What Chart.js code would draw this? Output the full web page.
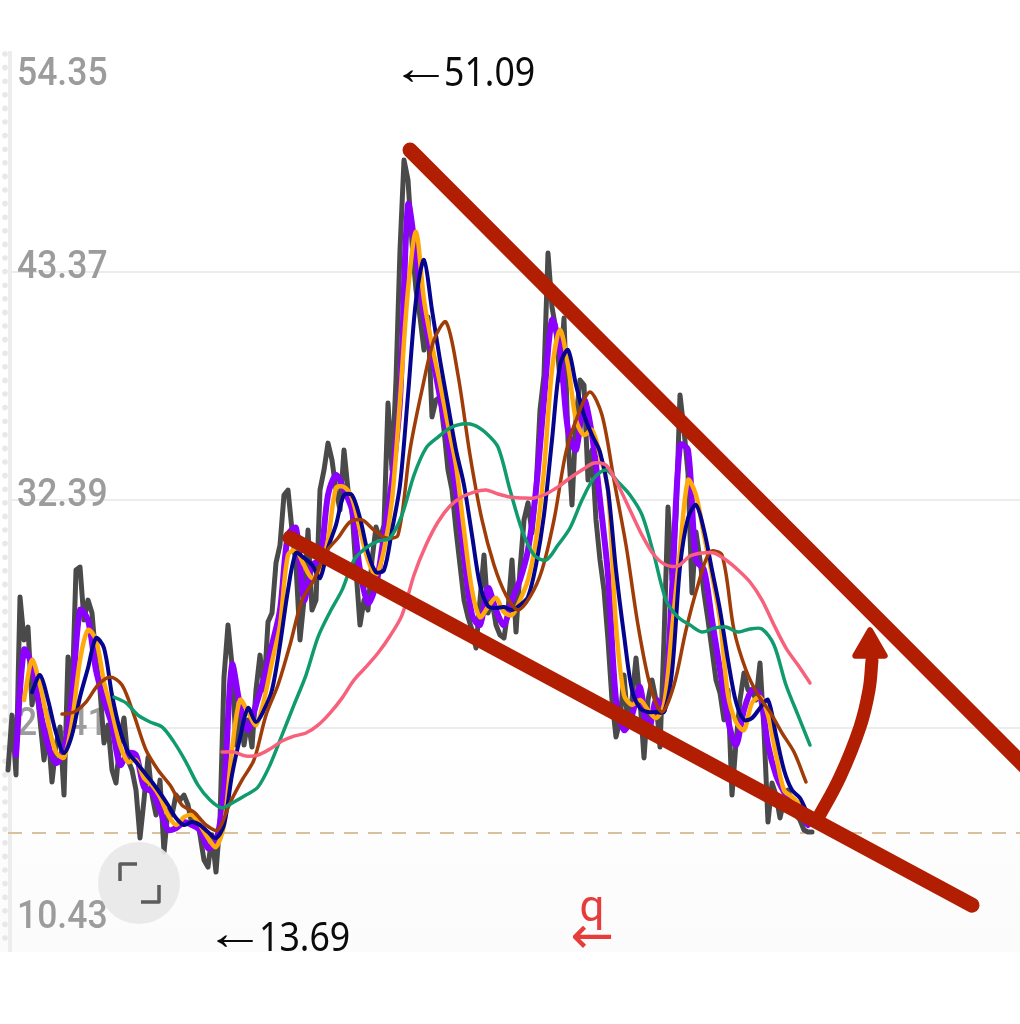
<!DOCTYPE html>
<html>
<head>
<meta charset="utf-8">
<title>Chart</title>
<script src="https://cdn.jsdelivr.net/npm/chart.js@4/dist/chart.umd.min.js"></script>
<style>
html, body { margin: 0; padding: 0; background: #fff; }
canvas { display: block; }
</style>
</head>
<body>
<canvas id="stockchart" width="1020" height="1024"></canvas>
<script>
/*----------------------------------------*/
/*  1.  data (session index, price)
/*----------------------------------------*/
var yTicks = [54.35, 43.37, 32.39, 21.41, 10.43];
var lastSession = 253;
var supportLevel = 16.35;
var highLabel = "51.09";
var lowLabel = "13.69";

var priceValues = [
	19.39,22.03,19.15,27.72,25.65,26.27,22.52,23.72,21.80,19.87,
	21.31,18.81,20.59,21.46,18.18,24.83,22.76,29.02,29.16,26.61,
	27.57,26.95,24.68,23.24,20.69,21.55,19.39,18.76,20.83,21.89,
	19.87,19.39,18.42,16.11,17.94,19.99,18.18,17.22,18.90,15.44,
	17.46,17.22,18.18,17.94,18.18,17.70,16.74,17.22,16.26,15.05,
	14.71,16.26,14.47,16.98,23.87,26.37,24.44,20.59,22.52,20.59,
	21.80,20.49,23.24,24.92,23.24,26.51,26.95,29.36,30.22,32.63,
	32.87,30.94,29.26,25.65,27.57,30.94,27.09,27.57,32.87,33.83,
	35.13,34.31,32.87,31.91,34.80,32.87,31.91,29.02,26.37,27.57,
	27.09,29.50,31.09,30.46,31.19,37.06,33.83,38.17,44.43,48.76,
	47.80,44.77,42.50,41.20,39.61,41.20,36.39,37.21,37.35,35.76,
	33.83,32.87,30.94,29.26,27.57,26.75,26.13,25.26,27.57,29.74,
	26.95,27.57,26.37,25.89,25.74,27.09,29.50,26.03,29.02,31.43,
	32.25,30.80,32.87,36.72,38.41,44.28,41.68,40.58,38.17,41.15,
	35.28,32.15,36.24,38.17,37.93,33.35,34.80,31.43,29.50,28.05,
	25.65,22.76,20.98,21.80,23.96,21.46,22.76,24.78,22.76,19.97,
	22.76,23.72,22.76,20.49,25.65,32.05,28.54,31.57,37.45,35.76,
	33.69,27.91,30.85,29.50,27.91,26.61,25.17,23.72,23.10,21.80,
	23.24,18.18,20.69,22.76,24.06,23.24,23.24,22.76,24.54,21.31,
	16.88,18.76,18.18,17.08,17.94,18.42,17.80,17.22,16.98,16.50,
	16.40,16.40
];

var purpleValues = [
	20.11,25.17,24.44,22.28,20.59,19.72,20.35,22.90,27.09,26.61,
	24.20,22.76,21.55,19.63,20.20,20.11,18.57,18.33,17.46,16.50,
	16.59,16.88,16.74,16.50,15.63,15.92,18.42,24.44,22.52,21.31,
	22.52,23.82,25.41,27.09,30.70,31.04,27.57,29.26,29.50,32.63,
	33.59,32.87,31.91,29.02,27.43,28.30,30.70,33.35,37.21,46.60,
	44.19,41.30,39.37,37.35,35.28,32.87,29.74,26.85,26.37,28.15,
	27.09,26.37,27.57,28.54,29.98,32.87,37.21,41.06,39.61,35.76,
	34.80,37.21,35.52,32.39,28.78,22.76,21.31,22.03,23.38,21.07,
	22.76,22.28,28.05,35.04,34.80,29.50,29.02,26.61,24.20,21.80,
	20.59,22.28,23.24,23.00,20.59,19.15,18.33,17.70,17.22,16.74
];

var orangeValues = [
	22.76,24.68,23.48,21.70,20.25,19.99,21.70,24.68,26.13,25.65,
	23.62,22.18,20.59,19.77,19.87,19.00,18.66,18.09,17.22,16.74,
	17.12,17.22,16.74,16.11,15.68,16.74,20.35,22.76,22.18,21.55,
	22.76,24.59,26.37,29.74,29.98,29.26,28.63,29.02,30.46,32.97,
	33.02,32.49,30.94,29.50,28.78,29.98,32.39,37.21,42.50,45.30,
	42.02,39.85,38.02,36.00,34.07,30.94,28.05,26.75,27.24,27.67,
	26.99,26.85,27.57,28.54,30.46,33.83,38.65,40.58,38.89,36.24,
	35.52,35.76,34.56,32.87,26.37,23.00,22.52,22.76,22.28,21.89,
	22.52,26.13,29.98,33.35,32.63,30.70,28.78,26.61,23.00,21.70,
	21.31,22.62,22.90,22.03,20.11,18.42,18.09,17.70,17.08
];

var blueValues = [
	23.14,23.96,22.76,21.17,20.20,21.07,22.90,24.30,25.74,25.26,
	23.00,21.31,20.25,19.77,19.29,18.81,18.28,17.70,17.08,16.74,
	16.88,16.74,16.40,16.11,16.74,19.15,20.93,22.37,21.70,22.28,
	23.24,25.41,28.05,29.84,29.60,29.26,28.63,30.08,31.19,32.63,
	32.63,31.52,29.84,28.92,29.02,30.94,33.11,37.45,42.02,43.95,
	41.54,39.13,36.96,34.80,33.11,30.70,28.30,27.28,27.19,27.24,
	27.09,27.33,27.72,29.26,31.67,35.28,38.89,39.61,37.93,36.48,
	35.52,34.70,32.87,29.02,25.89,23.24,22.37,22.18,22.18,22.18,
	24.11,29.16,31.52,32.15,30.94,29.02,27.09,24.68,22.66,21.80,
	21.89,22.37,22.76,21.07,19.39,18.42,18.04,17.22
];

var brownValues = [
	22.08,22.18,22.66,23.48,23.87,23.48,22.03,20.35,19.39,18.66,
	17.70,17.36,16.74,16.50,17.80,18.90,19.87,22.03,23.48,25.41,
	27.57,28.54,29.89,30.56,31.33,31.43,30.94,30.56,30.70,34.80,
	37.69,40.10,40.96,38.41,34.56,31.43,29.26,27.81,27.09,27.72,
	29.02,31.43,34.70,36.48,37.59,36.48,33.35,30.22,26.37,23.48,
	22.18,23.48,26.13,28.30,29.89,29.74,26.13,24.20,23.00,22.18,
	21.17,20.25,18.81
];

var greenValues = [
	22.90,22.62,22.03,21.70,21.46,20.73,19.77,18.66,17.94,17.56,
	17.85,18.18,18.57,19.63,21.07,22.52,23.96,25.79,27.00,28.05,
	29.50,30.08,30.41,30.56,31.67,33.59,34.89,35.42,35.86,36.05,
	36.00,35.62,34.94,32.87,30.94,29.74,29.50,30.22,31.04,32.39,
	33.45,33.83,33.26,32.63,31.67,29.74,27.57,26.75,26.37,26.03,
	26.22,26.27,26.03,26.18,26.18,25.41,23.48,22.03,20.59
];

var pinkValues = [
	20.25,20.25,20.06,20.11,20.40,20.78,21.02,21.17,21.55,22.13,
	22.85,23.72,24.35,25.02,25.84,26.85,28.78,30.22,31.33,32.10,
	32.53,32.77,32.87,32.68,32.53,32.49,32.49,32.68,33.02,33.45,
	33.83,34.17,34.07,33.11,31.91,30.70,29.74,29.26,29.21,29.69,
	29.84,29.84,29.50,29.02,28.44,27.57,26.37,25.26,24.44,23.58
];

// hand drawn wedge and arrow, still in session / price units
var upperSessions = [100.5, 255];
var upperValues = [49.24, 19.40];
var lowerSessions = [70.5, 241];
var lowerValues = [30.56, 12.88];
var arcSessions = [202.25, 208, 213, 215.25, 216];
var arcValues = [16.98, 19.05, 21.46, 23.24, 24.68];
var headSessions = [215.5];
var headValues = [25.3];

/*----------------------------------------*/
/*  2.  helpers
/*----------------------------------------*/
function stepped(values, start, step) {
	return values.map(function (v, i) {
		return { x: start + i * step, y: v };
	});
}

function paired(xs, ys) {
	return xs.map(function (x, i) {
		return { x: x, y: ys[i] };
	});
}

function lineSet(label, data, color, width, tension) {
	return {
		label: label,
		data: data,
		borderColor: color,
		backgroundColor: color,
		borderWidth: width,
		tension: tension,
		pointRadius: 0,
		borderJoinStyle: 'round',
		borderCapStyle: 'round',
		fill: false,
		clip: false
	};
}

// the reference type is a little narrower and taller than the installed fonts
function tallText(c, text, x, y, sx, sy) {
	c.save();
	c.translate(x, y);
	c.scale(sx, sy);
	c.fillText(text, 0, 0);
	c.restore();
}

/*----------------------------------------*/
/*  3.  plugin for the app furniture
/*----------------------------------------*/
var furniture = {
	id: 'furniture',
	beforeDraw: function (chart) {
		var c = chart.ctx;
		var yScale = chart.scales.y;
		var bottom = yScale.getPixelForValue(yTicks[4]);
		var fade = c.createLinearGradient(0, 740, 0, bottom);
		fade.addColorStop(0, '#ffffff');
		fade.addColorStop(1, '#fbfbfb');
		c.save();
		c.fillStyle = '#ffffff';
		c.fillRect(0, 0, 1020, 1024);
		c.fillStyle = fade;
		c.fillRect(0, 740, 1020, bottom - 740 - 4);
		// left rail with its beads
		c.fillStyle = '#ededed';
		c.fillRect(8, 51, 4, 901);
		c.fillStyle = '#e8e8e8';
		for (var y = 54; y < 945; y += 13.6) {
			c.beginPath();
			c.arc(5, y, 2.8, 0, Math.PI * 2);
			c.fill();
		}
		c.restore();
	},
	beforeDatasetsDraw: function (chart) {
		var c = chart.ctx;
		var yScale = chart.scales.y;
		var shift = [31, -4, -4, -3, -38];
		c.save();
		c.font = '500 35.5px Roboto';
		c.fillStyle = '#9c9c9c';
		c.textBaseline = 'middle';
		c.textAlign = 'left';
		yTicks.forEach(function (t, i) {
			tallText(c, t.toFixed(2), 17, yScale.getPixelForValue(t) + shift[i], 1, 1.1);
		});
		c.restore();
		c.lineJoin = 'round';
	},
	afterDatasetsDraw: function (chart) {
		var c = chart.ctx;
		c.save();
		// fullscreen button
		c.fillStyle = 'rgba(232,232,232,0.92)';
		c.beginPath();
		c.arc(139, 883, 41, 0, Math.PI * 2);
		c.fill();
		c.strokeStyle = '#5c5c5c';
		c.lineWidth = 3.5;
		c.beginPath();
		c.moveTo(120, 881); c.lineTo(120, 864); c.lineTo(137, 864);
		c.moveTo(159, 885); c.lineTo(159, 902); c.lineTo(141, 902);
		c.stroke();
		// high and low labels
		c.fillStyle = '#0b0b0b';
		c.textBaseline = 'middle';
		c.textAlign = 'left';
		c.font = '40px "Liberation Sans"';
		tallText(c, '←', 391, 71, 1.5, 1.2);
		tallText(c, '←', 205, 936, 1.5, 1.2);
		c.font = '35px "Noto Sans"';
		tallText(c, highLabel, 444, 75, 1.02, 1.12);
		tallText(c, lowLabel, 259, 940, 1.02, 1.12);
		// red marker
		c.fillStyle = '#e63c3c';
		c.textAlign = 'center';
		c.font = '44px Roboto';
		c.textBaseline = 'alphabetic';
		c.fillText('q', 592, 921);
		c.font = '52px "DejaVu Sans"';
		c.textBaseline = 'middle';
		c.fillText('←', 592, 939);
		c.restore();
	}
};

/*----------------------------------------*/
/*  4.  chart
/*----------------------------------------*/
var ctx = document.getElementById("stockchart");
var stockchart = new Chart(ctx, {
	type: 'line',
	data: {
		datasets: [
			Object.assign(lineSet('Arrow head', paired(headSessions, headValues), '#b21e02', 6, 0), {
				showLine: false,
				pointStyle: 'triangle',
				pointRadius: 17,
				pointBorderWidth: 6
			}),
			lineSet('Arrow', paired(arcSessions, arcValues), '#b21e02', 13, 0.4),
			lineSet('Upper wedge', paired(upperSessions, upperValues), '#b21e02', 15, 0),
			lineSet('Lower wedge', paired(lowerSessions, lowerValues), '#b21e02', 15, 0),
			lineSet('MA 250', stepped(pinkValues, 53.5, 3), '#f7617c', 3.5, 0.3),
			lineSet('MA 120', stepped(greenValues, 26.5, 3), '#0f9b6e', 3.5, 0.3),
			lineSet('MA 60', stepped(brownValues, 13.5, 3), '#a03c08', 3.5, 0.3),
			lineSet('MA 20', stepped(blueValues, 6, 2), '#05058f', 4, 0.3),
			lineSet('MA 10', stepped(orangeValues, 4, 2), '#ffaa0a', 4.5, 0.3),
			lineSet('MA 5', stepped(purpleValues, 2, 2), '#8c00ff', 6, 0.3),
			lineSet('Price', stepped(priceValues, 0, 1), '#4a4a4a', 5, 0),
			Object.assign(lineSet('Support', paired([0, lastSession], [supportLevel, supportLevel]), '#dcc09e', 2, 0), {
				borderDash: [14, 10],
				borderCapStyle: 'butt'
			})
		]
	},
	options: {
		responsive: false,
		animation: false,
		events: [],
		layout: {
			autoPadding: false,
			padding: { left: 8, right: 0, top: 44, bottom: 68 }
		},
		plugins: {
			legend: { display: false },
			tooltip: { enabled: false }
		},
		scales: {
			x: {
				type: 'linear',
				min: 0,
				max: lastSession,
				display: false
			},
			y: {
				min: yTicks[4],
				max: yTicks[0],
				afterFit: function (scale) {
					scale.width = 0;
				},
				afterBuildTicks: function (scale) {
					scale.ticks = yTicks.map(function (t) {
						return { value: t };
					});
				},
				ticks: { display: false },
				border: { display: false },
				grid: {
					drawTicks: false,
					lineWidth: 2,
					color: function (c) {
						var v = c.tick && c.tick.value;
						return (v === yTicks[0] || v === yTicks[4]) ? 'rgba(0,0,0,0)' : '#ececec';
					}
				}
			}
		}
	},
	plugins: [furniture]
});
</script>
</body>
</html>
